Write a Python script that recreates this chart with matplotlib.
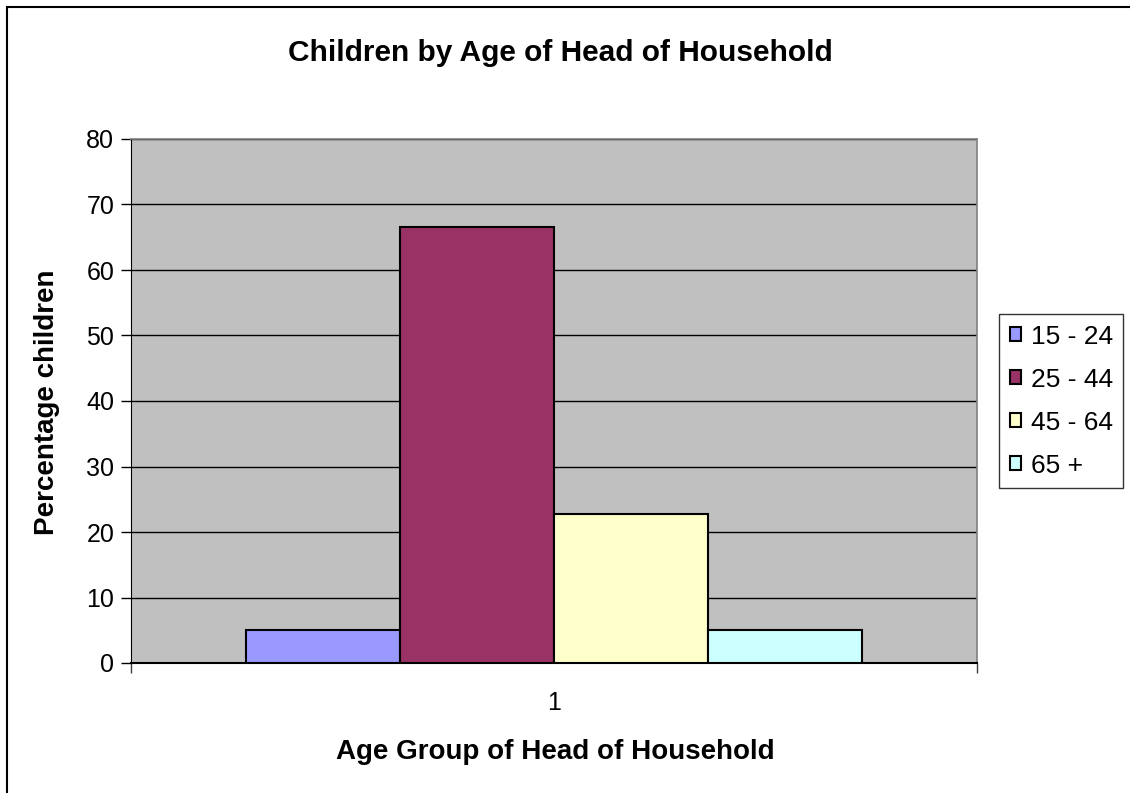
import matplotlib.pyplot as plt
from matplotlib.patches import Rectangle

plt.rcParams['font.family'] = ['Liberation Sans', 'DejaVu Sans']

age_groups = ['15 - 24', '25 - 44', '45 - 64', '65 +']
pct_children = [5.1, 66.5, 22.7, 5.1]
colors = ['#9999FF', '#993366', '#FFFFCC', '#CCFFFF']
yticks = [0, 10, 20, 30, 40, 50, 60, 70, 80]

W, H = 1130, 793
fig = plt.figure(figsize=(W / 100, H / 100), dpi=100)

# chart frame (only left/top visible, rest runs off the canvas)
fig.patches.append(Rectangle((7 / W, -0.1), 1.2, (H - 7) / H + 0.1,
                             transform=fig.transFigure, fill=False,
                             edgecolor='black', linewidth=1.5))

ax = fig.add_axes([131 / W, 1 - 663 / H, (977 - 131) / W, (663 - 139) / H])
ax.set_facecolor('#C0C0C0')

bw = 154 / 846
x0 = 0.5 - 2 * bw
for i, (lab, v, c) in enumerate(zip(age_groups, pct_children, colors)):
    ax.bar(x0 + (i + 0.5) * bw, v, width=bw, color=c, edgecolor='black',
           linewidth=1.5, label=lab, zorder=3)

ax.set_xlim(0, 1)
ax.set_ylim(0, 80)
ax.set_yticks(yticks)
ax.set_xticks([0, 1], labels=['', ''])
ax.tick_params(axis='x', length=7, width=1, direction='out', color='#404040')
ax.tick_params(axis='y', length=7, width=1, direction='out', labelsize=18, pad=5)
ax.yaxis.grid(True, color='black', linewidth=1, zorder=1)
ax.set_axisbelow(True)

for s in ['top', 'right']:
    ax.spines[s].set_color('#808080')
    ax.spines[s].set_linewidth(1.2)
ax.spines['left'].set_color('black')
ax.spines['bottom'].set_color('black')
ax.spines['bottom'].set_linewidth(1.5)

ax.text(0.5, -0.076, '1', transform=ax.transAxes, ha='center', va='center',
        fontsize=18)
fig.text(47 / W, 1 - 402 / H, 'Percentage children', rotation=90, ha='center',
         va='center', fontsize=20, fontweight='bold')
fig.text(555 / W, 1 - 752 / H, 'Age Group of Head of Household', ha='center',
         va='center', fontsize=20, fontweight='bold')
fig.text(560 / W, 1 - 53 / H, 'Children by Age of Head of Household',
         ha='center', va='center', fontsize=21.5, fontweight='bold')

leg = fig.legend(loc='center left', bbox_to_anchor=(999 / W, 1 - 401 / H),
                 fontsize=19, frameon=True, fancybox=False, edgecolor='black',
                 handlelength=0.45, handleheight=0.45, handletextpad=0.35,
                 labelspacing=0.72, borderpad=0.4, borderaxespad=0)
leg.get_frame().set_linewidth(1)

fig.savefig('out.png', dpi=100)
